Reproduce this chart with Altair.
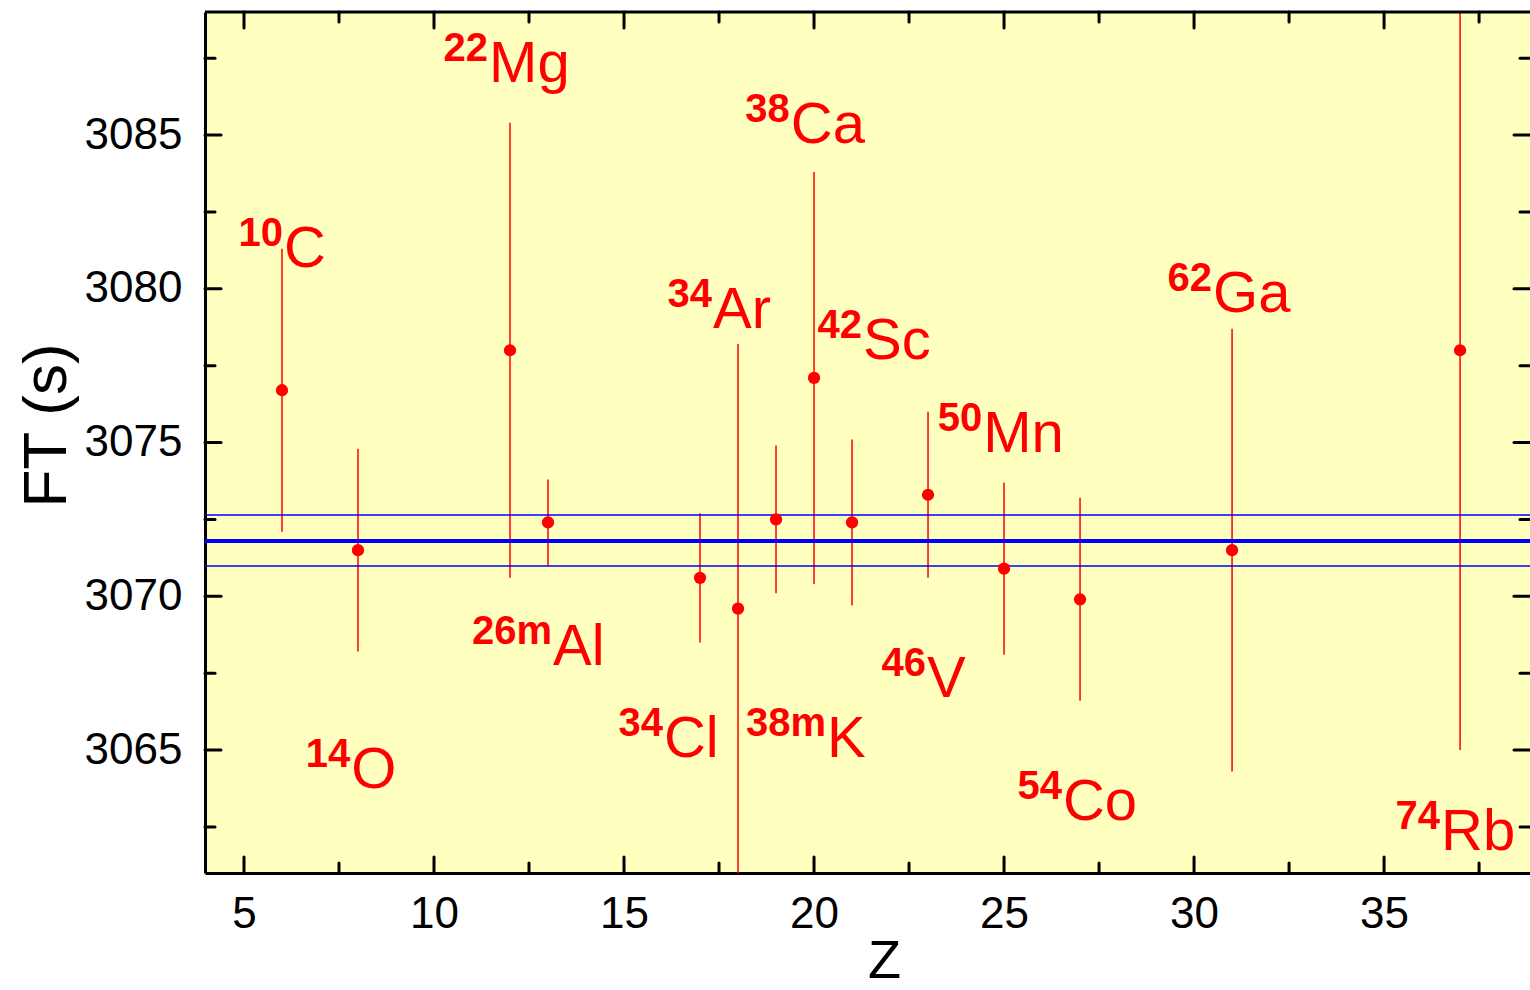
import altair as alt
import pandas as pd

# ---- data ----
nuclide_mass = ["10", "14", "22", "26m", "34", "34", "38m", "38", "42", "46", "50", "54", "62", "74"]
nuclide_sym = ["C", "O", "Mg", "Al", "Cl", "Ar", "K", "Ca", "Sc", "V", "Mn", "Co", "Ga", "Rb"]
z_values = [6, 8, 12, 13, 17, 18, 19, 20, 21, 23, 25, 27, 31, 37]
ft_values = [3076.7, 3071.5, 3078.0, 3072.4, 3070.6, 3069.6, 3072.5, 3077.1, 3072.4, 3073.3, 3070.9, 3069.9, 3071.5, 3078.0]
ft_errors = [4.6, 3.3, 7.4, 1.4, 2.1, 8.6, 2.4, 6.7, 2.7, 2.7, 2.8, 3.3, 7.2, 13.0]

# label anchor (junction between superscript and symbol, symbol baseline) in data units
label_z = [6.05, 7.82, 11.45, 13.13, 16.05, 17.34, 20.34, 19.39, 21.29, 22.97, 24.45, 26.55, 30.5, 36.5]
label_ft = [3080.71, 3063.76, 3086.72, 3067.76, 3064.77, 3078.72, 3064.77, 3084.74, 3077.72, 3066.72, 3074.69, 3062.72, 3079.24, 3061.75]

avg_ft = [3071.8]
avg_band = [3072.64, 3070.98]

x_major = [5, 10, 15, 20, 25, 30, 35]
x_minor = [7.5, 12.5, 17.5, 22.5, 27.5, 32.5, 37.5]
y_major = [3065, 3070, 3075, 3080, 3085]
y_minor = [3062.5, 3067.5, 3072.5, 3077.5, 3082.5, 3087.5]

X_DOMAIN = [3.974, 38.84]
Y_DOMAIN = [3061.0, 3089.0]

W, H = 1325, 861
FONT = "Liberation Sans"
RED = "#ff0000"
BLUE = "#0000ff"
XT = "Z"
YT = "FT (s)"

pts = pd.DataFrame({"Z": z_values, "FT": ft_values, "err": ft_errors})
pts["lo"] = pts["FT"] - pts["err"]
pts["hi"] = pts["FT"] + pts["err"]
labels = pd.DataFrame({"mass": nuclide_mass, "sym": nuclide_sym, "lx": label_z, "ly": label_ft})
avg_df = pd.DataFrame({"v": avg_ft})
band_df = pd.DataFrame({"v": avg_band})

def xs():
    return alt.Scale(domain=X_DOMAIN, nice=False, zero=False)

def ys():
    return alt.Scale(domain=Y_DOMAIN, nice=False, zero=False)

base = alt.Chart(pts)

# main layer carrying the axes
errbars = base.mark_rule(color=RED, strokeWidth=1.5, clip=True).encode(
    x=alt.X("Z:Q", scale=xs(), title=XT,
            axis=alt.Axis(values=x_major, format="d", grid=False, ticks=False,
                          domain=True, domainColor="black", domainWidth=3,
                          labelFont=FONT, labelFontSize=44, labelColor="black",
                          labelPadding=19, labelFlush=False,
                          titleFont=FONT, titleFontSize=54, titleFontWeight="normal",
                          titleColor="black", titleX=679, titleY=104,
                          titleBaseline="alphabetic", titleAlign="center")),
    y=alt.Y("lo:Q", scale=ys(), title=YT,
            axis=alt.Axis(values=y_major, format="d", grid=False, ticks=False,
                          domain=True, domainColor="black", domainWidth=3,
                          labelFont=FONT, labelFontSize=44, labelColor="black",
                          labelPadding=23, labelFlush=False,
                          titleFont=FONT, titleFontSize=62, titleFontWeight="normal",
                          titleColor="black", titleX=-140, titleY=413,
                          titleBaseline="alphabetic", titleAlign="center", titleAngle=-90)),
    y2="hi:Q",
)

dots = base.mark_circle(color=RED, size=150, opacity=1).encode(
    x=alt.X("Z:Q", scale=xs(), title=XT),
    y=alt.Y("FT:Q", scale=ys(), title=YT),
)

avg_line = alt.Chart(avg_df).mark_rule(color=BLUE, strokeWidth=4).encode(
    y=alt.Y("v:Q", scale=ys(), title=YT)
)
band_lines = alt.Chart(band_df).mark_rule(color=BLUE, strokeWidth=1.5).encode(
    y=alt.Y("v:Q", scale=ys(), title=YT)
)

sym_text = alt.Chart(labels).mark_text(
    color=RED, font=FONT, fontSize=58, align="left", baseline="alphabetic"
).encode(
    x=alt.X("lx:Q", scale=xs(), title=XT),
    y=alt.Y("ly:Q", scale=ys(), title=YT),
    text="sym:N",
)
mass_text = alt.Chart(labels).mark_text(
    color=RED, font=FONT, fontSize=40, fontWeight="bold", align="right",
    baseline="alphabetic", dy=-21, dx=-1
).encode(
    x=alt.X("lx:Q", scale=xs(), title=XT),
    y=alt.Y("ly:Q", scale=ys(), title=YT),
    text="mass:N",
)

# inward ticks on all four sides
def yticks(vals, length, side):
    df = pd.DataFrame({"t": vals})
    if side == "left":
        xa, xb = alt.value(0), alt.value(length)
    else:
        xa, xb = alt.value(W - length), alt.value(W)
    return alt.Chart(df).mark_rule(color="black", strokeWidth=3, strokeCap="round").encode(
        y=alt.Y("t:Q", scale=ys(), title=YT), x=xa, x2=xb)

def xticks(vals, length, side):
    df = pd.DataFrame({"t": vals})
    if side == "top":
        ya, yb = alt.value(0), alt.value(length)
    else:
        ya, yb = alt.value(H - length), alt.value(H)
    return alt.Chart(df).mark_rule(color="black", strokeWidth=3, strokeCap="round").encode(
        x=alt.X("t:Q", scale=xs(), title=XT), y=ya, y2=yb)

top_border = alt.Chart(avg_df).mark_rule(color="black", strokeWidth=3).encode(
    y=alt.value(0)
)

tick_layers = [
    yticks(y_major, 16, "left"), yticks(y_minor, 10, "left"),
    yticks(y_major, 16, "right"), yticks(y_minor, 10, "right"),
    xticks(x_major, 16, "top"), xticks(x_minor, 10, "top"),
    xticks(x_major, 16, "bottom"), xticks(x_minor, 10, "bottom"),
]

chart = alt.layer(
    errbars, band_lines, avg_line, dots, sym_text, mass_text, top_border, *tick_layers
).properties(
    width=W, height=H,
    autosize=alt.AutoSizeParams(type="none"),
    padding={"left": 205, "top": 12, "right": 0, "bottom": 117},
    background="white",
).configure_view(
    fill="#ffffc0", stroke=None
)

chart.save("out.html", embed_options={"renderer": "svg", "actions": False})
